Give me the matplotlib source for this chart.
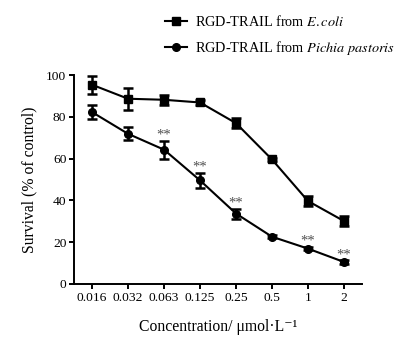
import numpy as np
import matplotlib
matplotlib.use('Agg')
import matplotlib.pyplot as plt
from matplotlib.lines import Line2D

plt.rcParams['font.family'] = ['Liberation Serif', 'DejaVu Serif']
plt.rcParams['mathtext.fontset'] = 'stix'

# data
conc = ['0.016', '0.032', '0.063', '0.125', '0.25', '0.5', '1', '2']
ecoli = [95.4, 88.7, 88.2, 86.9, 77.0, 59.6, 39.7, 30.1]
ecoli_err = [4.3, 5.3, 2.4, 1.0, 2.5, 0.8, 2.5, 2.3]
pichia = [82.3, 71.9, 64.3, 49.6, 33.7, 22.6, 16.9, 10.5]
pichia_err = [3.4, 3.1, 4.3, 3.6, 2.4, 0.8, 0.8, 0.8]
sig_idx = [2, 3, 4, 6, 7]

fig = plt.figure(figsize=(4.09, 3.40), dpi=100)
ax = fig.add_axes([0.181, 0.165, 0.704, 0.614])

x = np.arange(len(conc))
style = dict(color='black', linewidth=1.5, elinewidth=1.8, capsize=3.3, capthick=1.8)
ax.errorbar(x, ecoli, yerr=ecoli_err, marker='s', markersize=5.5, **style)
ax.errorbar(x, pichia, yerr=pichia_err, marker='o', markersize=5.5, **style)

# significance marks
for i in sig_idx:
    ax.text(x[i], pichia[i] + pichia_err[i] + 1.0, '**', ha='center', va='baseline',
            fontsize=10.5, color='#505050')

ax.set_xlim(-0.5, 7.5)
ax.set_ylim(0, 100)
ax.set_xticks(x)
ax.set_xticklabels(conc)
ax.set_yticks([0, 20, 40, 60, 80, 100])
ax.tick_params(labelsize=9.7, width=1.4, length=3.5, pad=2)
for s in ['top', 'right']:
    ax.spines[s].set_visible(False)
for s in ['left', 'bottom']:
    ax.spines[s].set_linewidth(1.4)

ax.set_ylabel('Survival (% of control)', fontsize=11.3, labelpad=6)
ax.set_xlabel('Concentration/ μmol·L\u207b\u00b9', fontsize=11.3, labelpad=11)

handles = [Line2D([], [], color='black', marker='s', markersize=5.5, linewidth=1.5),
           Line2D([], [], color='black', marker='o', markersize=5.5, linewidth=1.5)]
labels = ['RGD-TRAIL from $\\it{E.coli}$', 'RGD-TRAIL from $\\it{Pichia\\ pastoris}$']
fig.legend(handles, labels, loc='upper left', bbox_to_anchor=(0.403, 0.958),
           frameon=False, borderpad=0, borderaxespad=0, fontsize=10.3,
           handlelength=1.55, handletextpad=0.55, labelspacing=0.7)

fig.savefig('out.png', dpi=100)
